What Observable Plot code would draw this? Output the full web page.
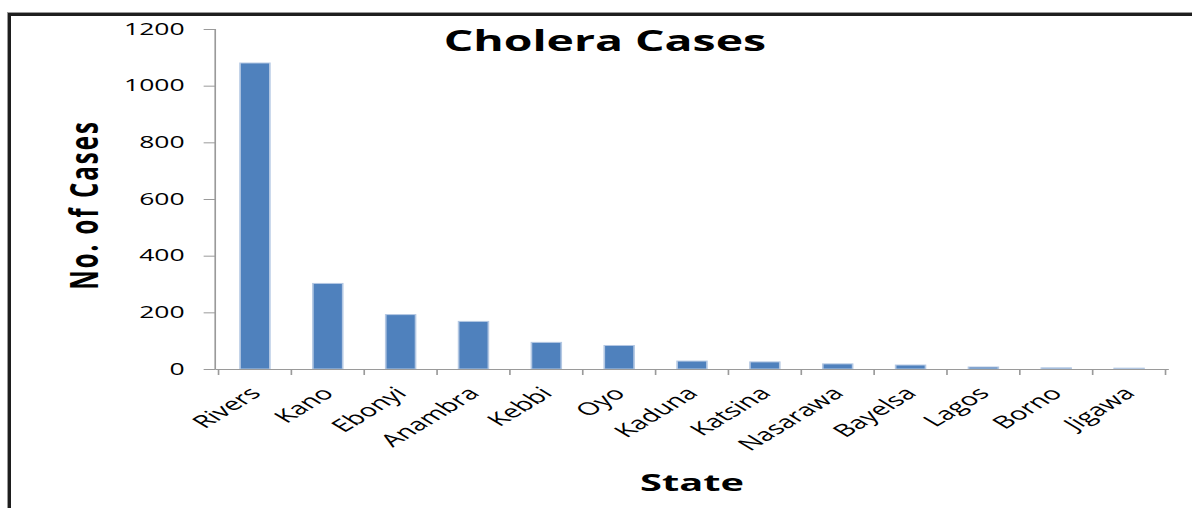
<!DOCTYPE html>
<html>
<head>
<meta charset="utf-8">
<script src="https://cdn.jsdelivr.net/npm/d3@7"></script>
<script src="https://cdn.jsdelivr.net/npm/@observablehq/plot@0.6"></script>
<style>
  html, body { margin: 0; padding: 0; background: #fff; overflow: hidden; }
  body { width: 1192px; height: 508px; position: relative; font-family: 'Open Sans', sans-serif; }
  #frame { position: absolute; left: 8px; top: 13px; right: -10px; bottom: -10px;
           border-left: 3px solid #1e1e1e; border-top: 3px solid #1e1e1e; box-shadow: -1px -1px 0 #9a9a9a; }
  #wrap { position: absolute; left: 0; top: 0; width: 720px; height: 508px;
          transform: scaleX(1.65556); transform-origin: 0 0; }
  #title { position: absolute; left: 365.4px; top: 26px; transform: translateX(-50%);
           font-size: 28px; line-height: 1; font-weight: 700; white-space: nowrap; color: #000; }
  #xlab { position: absolute; left: 418px; top: 469.5px; transform: translateX(-50%);
          font-size: 24px; line-height: 1; font-weight: 700; white-space: nowrap; color: #000; }
  #ylab { position: absolute; left: 50px; top: 205px; transform: translate(-50%, -50%) rotate(-90deg);
          font-size: 24px; line-height: 1; font-weight: 700; white-space: nowrap; letter-spacing: 2px; color: #000; }
  #wrap svg [aria-label^="y-axis"] line,
  #wrap svg [aria-label="y-axis tick"] path { stroke: #9a9a9a; }
  #wrap svg [aria-label^="x-axis"] text { font-size: 17.5px; }
</style>
</head>
<body>
<div id="wrap">
  <div id="chart"></div>
  <div id="title">Cholera Cases</div>
  <div id="ylab">No. of Cases</div>
  <div id="xlab">State</div>
</div>
<div id="frame"></div>
<script>
const states = ["Rivers", "Kano", "Ebonyi", "Anambra", "Kebbi", "Oyo", "Kaduna", "Katsina", "Nasarawa", "Bayelsa", "Lagos", "Borno", "Jigawa"];
const cases = [1080, 302, 192, 168, 94, 83, 28, 25, 18, 14, 7, 4, 3];
const yTicks = [0, 200, 400, 600, 800, 1000, 1200];

const data = states.map((s, i) => ({state: s, cases: cases[i]}));

// axis lines and category-boundary ticks, placed through the chart's scales
function axisLines(index, scales, values, dims) {
  const {x, y} = scales;
  const g = d3.create("svg:g").attr("stroke", "#9a9a9a").attr("fill", "none");
  const x0 = dims.marginLeft, x1 = dims.width - dims.marginRight;
  const yb = y(yTicks[0]), yt = y(yTicks[yTicks.length - 1]);
  g.append("line").attr("x1", x0).attr("x2", x0).attr("y1", yt).attr("y2", yb);
  g.append("line").attr("x1", x0).attr("x2", x1).attr("y1", yb + 0.5).attr("y2", yb + 0.5);
  const bw = x.bandwidth ? x.bandwidth() : 0;
  const step = x.step ? x.step() : (x1 - x0) / states.length;
  const edges = states.map(d => x(d) + bw / 2 - step / 2);
  edges.push(edges[edges.length - 1] + step);
  for (const e of edges) {
    g.append("line").attr("x1", e).attr("x2", e).attr("y1", yb).attr("y2", yb + 6);
  }
  return g.node();
}

const chart = Plot.plot({
  width: 720,
  height: 508,
  marginLeft: 130,
  marginRight: 14,
  marginTop: 29,
  marginBottom: 139,
  style: {fontFamily: "'Open Sans', sans-serif", fontSize: "16px", color: "#000", background: "transparent", overflow: "visible"},
  x: {domain: states, paddingInner: 0.6, paddingOuter: 0.3, tickSize: 0, tickRotate: -45, tickPadding: 21, label: null},
  y: {domain: [0, 1200], ticks: yTicks, tickFormat: d => String(d), tickSize: 7, tickPadding: 12, label: null},
  marks: [
    Plot.barY(data, {x: "state", y: "cases", fill: "#4F81BD", stroke: "#b4c8e3", strokeWidth: 1}),
    axisLines
  ]
});
document.getElementById("chart").appendChild(chart);
</script>
</body>
</html>
